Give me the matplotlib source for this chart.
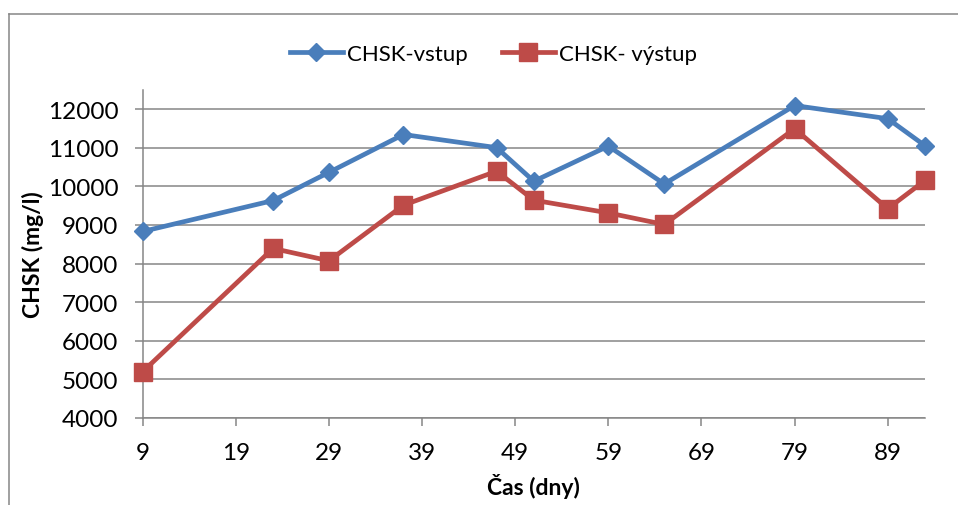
import matplotlib
matplotlib.use('Agg')
import matplotlib.pyplot as plt
from matplotlib.lines import Line2D

plt.rcParams['font.family'] = ['Lato', 'DejaVu Sans']

# ---- data ----
days = [9, 23, 29, 37, 47, 51, 59, 65, 79, 89, 93]
chsk_in = [8830, 9630, 10360, 11340, 11000, 10130, 11040, 10060, 12090, 11750, 11050]
chsk_out = [5200, 8390, 8070, 9510, 10390, 9640, 9310, 9010, 11490, 9420, 10150]
x_ticks = [9, 19, 29, 39, 49, 59, 69, 79, 89]
y_ticks = [4000, 5000, 6000, 7000, 8000, 9000, 10000, 11000, 12000]

BLUE = '#4a7ebb'
RED = '#be4b48'
GRID = '#868686'
TICK_FS = 17.5
LEG_FS = 16
LAB_FS = 16.5

W, H = 958, 506
fig = plt.figure(figsize=(W / 100, H / 100), dpi=100)
ax = fig.add_axes([142.7 / W, 1 - 419 / H, (925 - 142.7) / W, (419 - 90.7) / H])

ax.plot(days, chsk_in, color=BLUE, lw=3.4, marker='D', ms=9,
        mfc=BLUE, mec=BLUE, mew=1, label='CHSK-vstup', zorder=3, clip_on=False)
ax.plot(days, chsk_out, color=RED, lw=3.4, marker='s', ms=13,
        mfc=RED, mec=RED, mew=1, label='CHSK- výstup', zorder=3, clip_on=False)

ax.set_xlim(9, 93)
ax.set_ylim(4000, 12500)
ax.set_xticks(x_ticks)
ax.set_yticks(y_ticks)
ax.yaxis.grid(True, color=GRID, lw=1.1)
ax.set_axisbelow(True)

for side in ['top', 'right']:
    ax.spines[side].set_visible(False)
for side in ['left', 'bottom']:
    ax.spines[side].set_color(GRID)
    ax.spines[side].set_linewidth(1.1)

ax.tick_params(axis='both', direction='out', length=5.5, width=1.1,
               color=GRID, labelsize=TICK_FS, labelcolor='black')
ax.tick_params(axis='y', pad=12)
ax.tick_params(axis='x', pad=12)

ax.set_xlabel('Čas (dny)', fontsize=LAB_FS, fontweight='bold', labelpad=7)
ax.set_ylabel('CHSK (mg/l)', fontsize=LAB_FS, fontweight='bold', labelpad=3)

fig.legend(loc='center', bbox_to_anchor=(493.5 / W, 1 - 55 / H), ncol=2,
           frameon=False, fontsize=LEG_FS, handlelength=2.4, handletextpad=0.2,
           columnspacing=1.5)

# outer chart frame (left and top edges visible)
fx, fy = 9 / W, 1 - 15 / H
fig.add_artist(Line2D([fx, fx], [0, fy], color=GRID, lw=1.1))
fig.add_artist(Line2D([fx, 1], [fy, fy], color=GRID, lw=1.1))

fig.savefig('out.png', dpi=100, facecolor='white')
